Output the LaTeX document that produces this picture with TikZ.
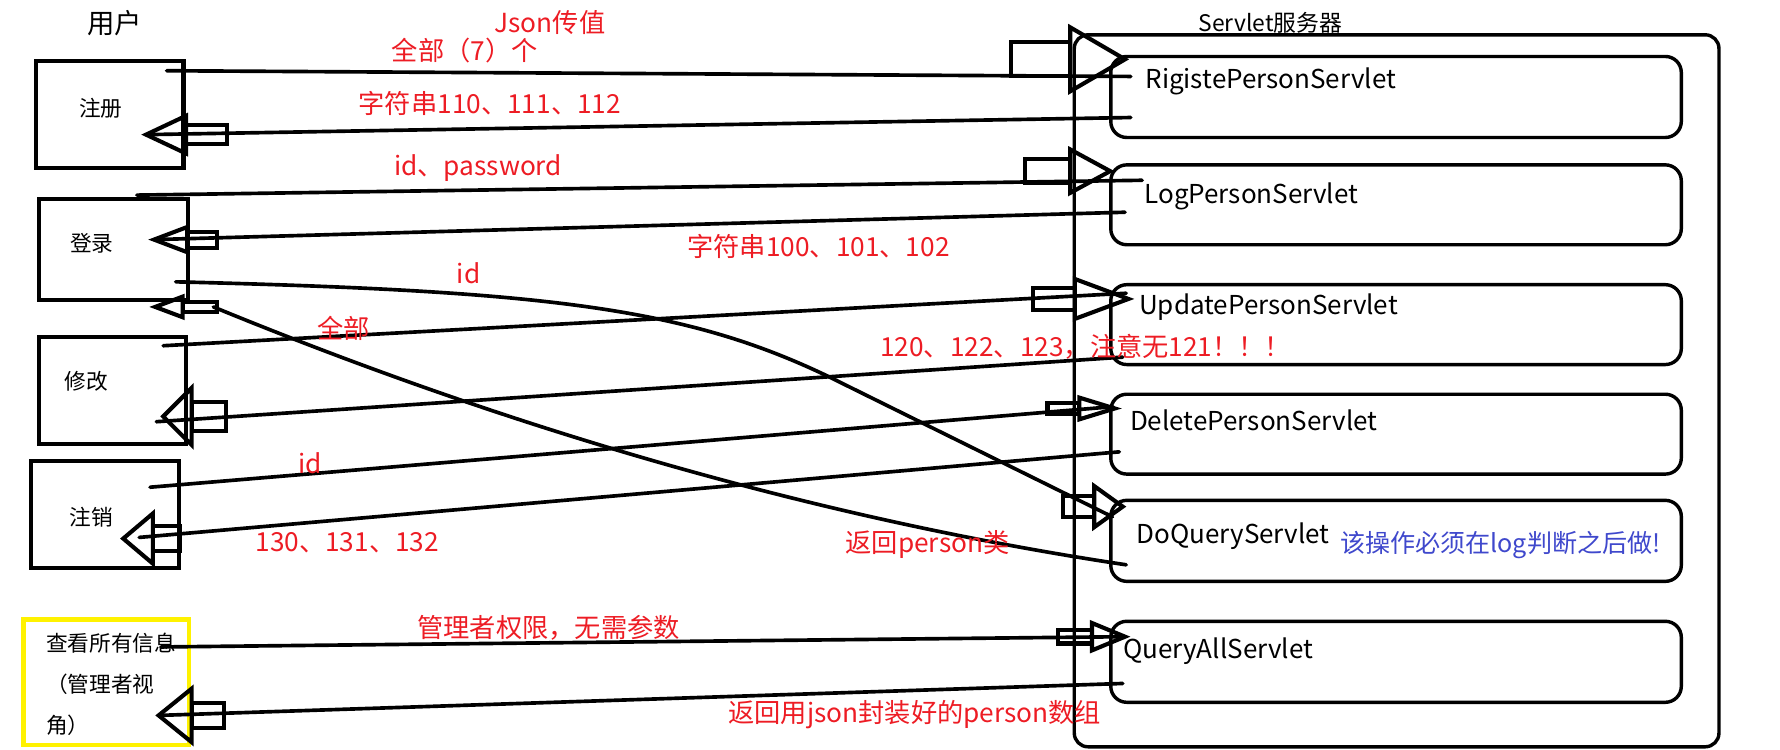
\documentclass[tikz,border=0pt]{standalone}
\usepackage{fontspec}
\setmainfont{Noto Sans CJK SC}
\definecolor{pred}{RGB}{237,28,36}
\definecolor{pblue}{RGB}{63,72,204}
\definecolor{pyel}{RGB}{255,242,0}
\newcommand{\blkarrow}[6]{%
  \draw[blk] (#1,#2) -- (#3,{#2-#4}) -- (#3,{#2+#4}) -- cycle;
  \draw[blk] (#3,{#2-#6}) rectangle (#5,{#2+#6});}
\begin{document}
\begin{tikzpicture}[x=0.5pt,y=-0.5pt,
  conn/.style={line width=1.6pt,line cap=round},
  blk/.style={line width=1.8pt,line join=miter},
  ubox/.style={draw,line width=1.8pt,inner sep=0pt,anchor=north west},
  sbox/.style={draw,line width=1.5pt,inner sep=0pt,anchor=north west,rounded corners=7pt},
  lbl/.style={anchor=west,inner sep=0pt},
  blbl/.style={lbl,font=\fontsize{9.5}{18}\selectfont},
  slbl/.style={lbl,font=\fontsize{11.4}{14}\selectfont},
  rlbl/.style={lbl,text=pred,font=\fontsize{11.5}{13}\selectfont}]
\useasboundingbox (0,0) rectangle (1560,657.3);

% user side
\node[lbl,font=\fontsize{12}{14}\selectfont] (users) at (76,20) {用户};
\node[ubox,minimum width=64.5pt,minimum height=46.75pt] (reg) at (30,52) {};
\node[ubox,minimum width=65.2pt,minimum height=44.3pt] (login) at (32.6,172.4) {};
\node[ubox,minimum width=64.5pt,minimum height=47pt] (modify) at (32,293.6) {};
\node[ubox,minimum width=65pt,minimum height=47pt] (cancel) at (25,402) {};
\node[ubox,draw=pyel,line width=2pt,minimum width=72.5pt,minimum height=55pt] (all) at (18.5,541) {};
\node[blbl] (treg) at (69,95) {注册};
\node[blbl] (tlogin) at (61,213) {登录};
\node[blbl] (tmod) at (56,334.5) {修改};
\node[blbl] (tcan) at (60.5,453) {注销};
\node[blbl,align=left] (tall) at (40,600) {查看所有信息\\（管理者视\\角）};

% server side
\node[sbox,rounded corners=6pt,minimum width=282.5pt,minimum height=312pt] (server) at (940,29) {};
\node[lbl,font=\fontsize{10}{12}\selectfont] (stitle) at (1050,20) {Servlet服务器};
\node[sbox,minimum width=250pt,minimum height=35.5pt] (s1) at (972,48) {};
\node[sbox,minimum width=250pt,minimum height=35pt] (s2) at (972,143) {};
\node[sbox,minimum width=250pt,minimum height=35pt] (s3) at (972,248) {};
\node[sbox,minimum width=250pt,minimum height=35pt] (s4) at (972,344) {};
\node[sbox,minimum width=250pt,minimum height=35.5pt] (s5) at (972,437) {};
\node[sbox,minimum width=250pt,minimum height=35.5pt] (s6) at (972,543) {};
\node[slbl] (t1) at (1003.5,71.5) {RigistePersonServlet};
\node[slbl] (t2) at (1002.6,172) {LogPersonServlet};
\node[slbl] (t3) at (998,269) {UpdatePersonServlet};
\node[slbl] (t4) at (990,368.7) {DeletePersonServlet};
\node[slbl] (t5) at (995.6,470) {DoQueryServlet};
\node[slbl] (t6) at (983.8,571) {QueryAllServlet};
\node[lbl,text=pblue,font=\fontsize{11}{13}\selectfont] (tnote) at (1174,477.6) {该操作必须在log判断之后做!};

% connector end points
\coordinate (a1) at (146,62);   \coordinate (a2) at (991,67);
\coordinate (b1) at (991,103);  \coordinate (b2) at (128,118);
\coordinate (c1) at (120,171);  \coordinate (c2) at (1001,158);
\coordinate (d1) at (986,186);  \coordinate (d2) at (135,210);
\coordinate (e1) at (154,247);  \coordinate (e2) at (975,453);
\coordinate (f1) at (987,495);  \coordinate (f2) at (187,269);
\coordinate (g1) at (143,303);  \coordinate (g2) at (987,257);
\coordinate (h1) at (984,313);  \coordinate (h2) at (137,369.6);
\coordinate (i1) at (131.5,427);\coordinate (i2) at (975.5,356.4);
\coordinate (j1) at (981,396);  \coordinate (j2) at (122,471);
\coordinate (k1) at (141,567);  \coordinate (k2) at (986,558);
\coordinate (l1) at (984,599);  \coordinate (l2) at (139,627);

\draw[conn] (a1) -- (a2);
\draw[conn] (b1) -- (b2);
\draw[conn] (c1) -- (c2);
\draw[conn] (d1) -- (d2);
\draw[conn] (e1) .. controls (480,255) and (600,270) .. (724,329) -- (e2);
\draw[conn] (f1) .. controls (720,455) and (450,377) .. (f2);
\draw[conn] (g1) -- (g2);
\draw[conn] (h1) -- (h2);
\draw[conn] (i1) -- (i2);
\draw[conn] (j1) -- (j2);
\draw[conn] (k1) -- (k2);
\draw[conn] (l1) -- (l2);

% block arrows
\blkarrow{986}{52}{938}{28}{886}{15}
\blkarrow{128}{118}{163}{16.5}{199}{8.5}
\blkarrow{973}{150}{938}{19}{898}{10.5}
\blkarrow{135}{210}{164}{11}{190}{7}
\blkarrow{984}{444}{959}{18}{932}{9}
\blkarrow{136}{269}{160}{9}{190}{4.5}
\blkarrow{989}{262}{942}{17.5}{905}{9.5}
\blkarrow{143}{365}{168}{25}{198}{13}
\blkarrow{977}{358}{946}{9.5}{918}{5}
\blkarrow{108}{472}{134}{22}{158}{11}
\blkarrow{986}{558}{957}{12}{927}{6}
\blkarrow{139}{627}{168}{23.5}{196}{11}

% labels
\node[rlbl] (l_json) at (433,20) {Json传值};
\node[rlbl] (l_all7) at (343,44) {全部（7）个};
\node[rlbl] (l_r11) at (314,90.6) {字符串110、111、112};
\node[rlbl] (l_idpw) at (345,147.5) {id、password};
\node[rlbl] (l_r10) at (602,216) {字符串100、101、102};
\node[rlbl] (l_id1) at (400,239.5) {id};
\node[rlbl] (l_all) at (278,287.5) {全部};
\node[rlbl] (l_r12) at (771,304) {120、122、123，注意无121！！！};
\node[rlbl] (l_id2) at (261,406) {id};
\node[rlbl] (l_r13) at (223.5,476) {130、131、132};
\node[rlbl] (l_person) at (740.7,477.6) {返回person类};
\node[rlbl] (l_admin) at (365.5,550.5) {管理者权限，无需参数};
\node[rlbl] (l_arr) at (638,626) {返回用json封装好的person数组};
\end{tikzpicture}
\end{document}
